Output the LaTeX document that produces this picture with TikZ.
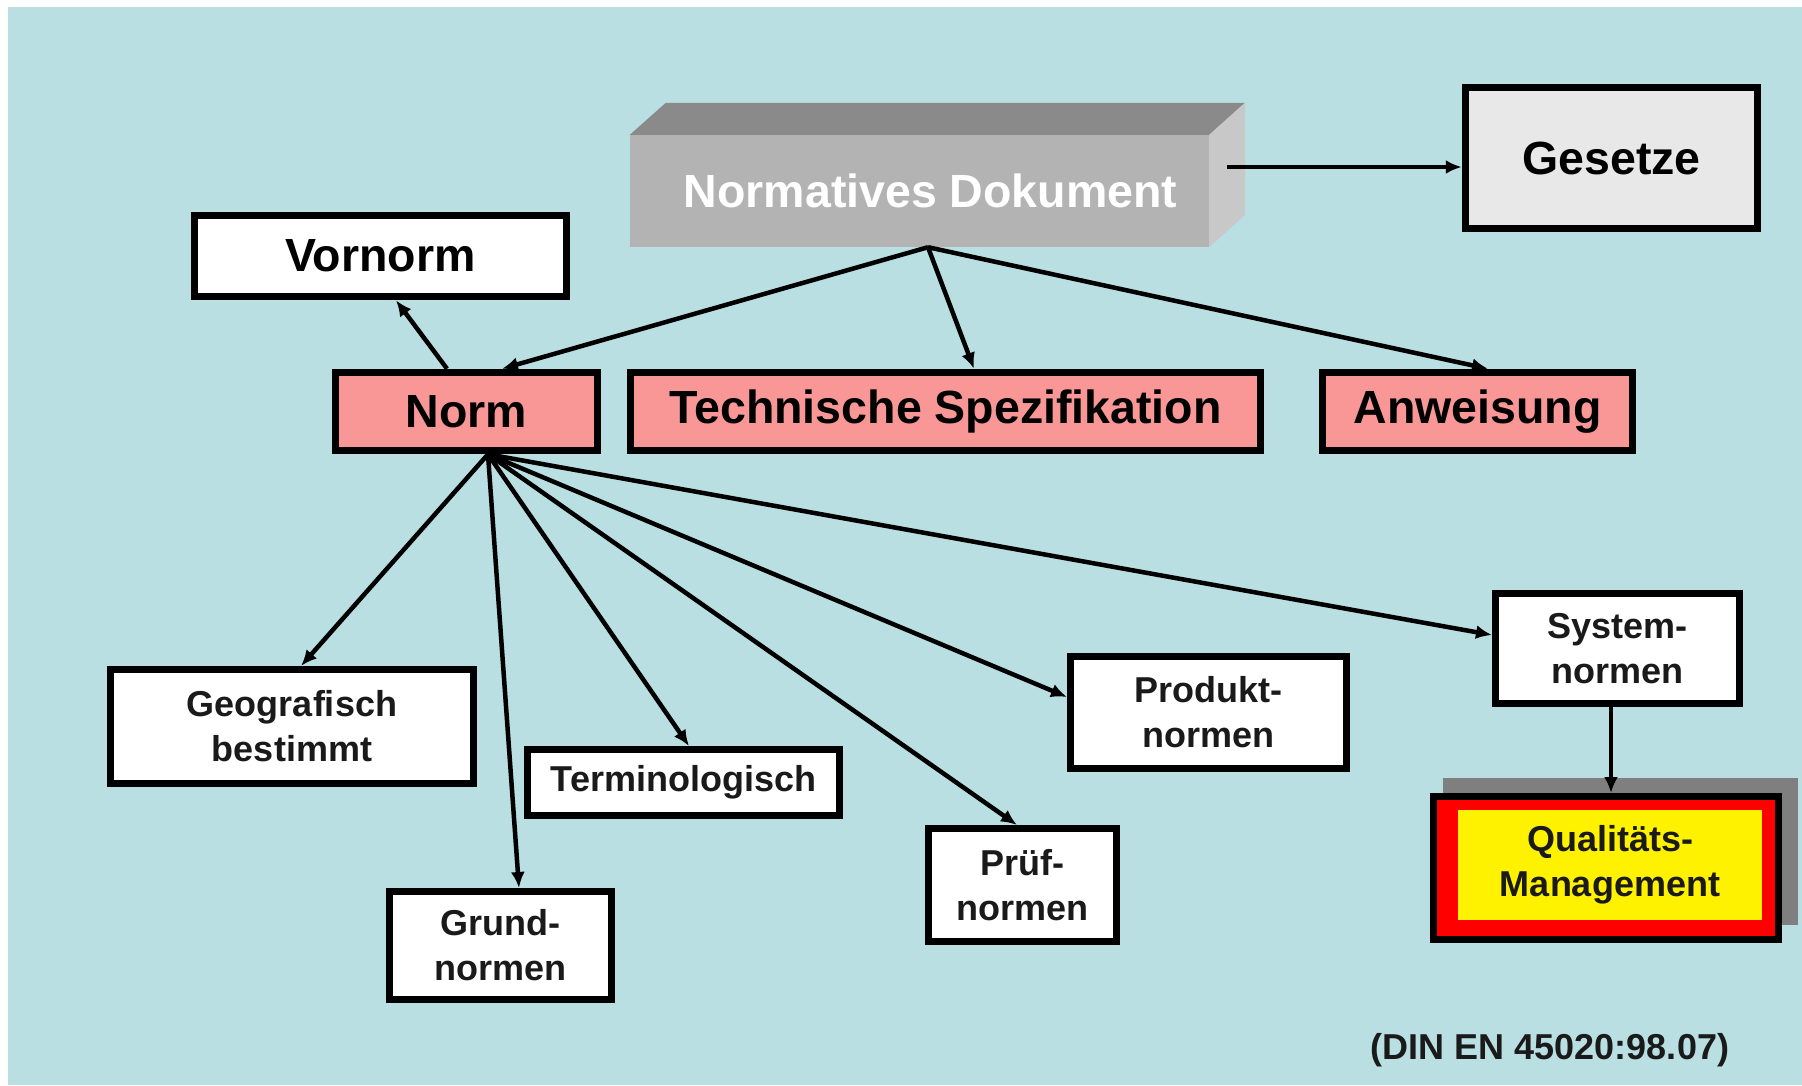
\documentclass[tikz,border=0pt]{standalone}
\usepackage{fontspec}
\setmainfont{Liberation Sans}
\usetikzlibrary{arrows.meta,calc}
\definecolor{bg}{HTML}{B9DFE2}
\definecolor{pinkbox}{HTML}{F99797}
\definecolor{gesgray}{HTML}{E8E8E8}
\definecolor{ndfront}{HTML}{B3B3B3}
\definecolor{ndtop}{HTML}{8A8A8A}
\definecolor{ndside}{HTML}{C8C8C8}
\definecolor{shadowgray}{HTML}{7F7F7F}
\definecolor{txt}{HTML}{1A1A1A}
\begin{document}
\begin{tikzpicture}[x=1pt,y=-1pt,
  bigbox/.style={draw=black,line width=7.5pt,inner sep=0pt,align=center,text=black,
    font=\bfseries\fontsize{46.5}{50}\selectfont},
  smallbox/.style={draw=black,line width=7pt,fill=white,inner sep=0pt,align=center,text=txt,
    font=\bfseries\fontsize{36}{45}\selectfont},
  arr/.style={line width=4.5pt,draw=black,-{Latex[length=16pt,width=14pt]}},
]
\useasboundingbox (0,0) rectangle (1802,1085);
\fill[white] (0,0) rectangle (1802,1085);
\fill[bg] (8,7) rectangle (1802,1085);

% Normatives Dokument (3D box)
\node[fill=ndfront,inner sep=0pt,minimum width=579pt,minimum height=112pt,
  text=white,font=\bfseries\fontsize{46.5}{50}\selectfont] (nd) at (919.5,191) {\hspace*{22pt}Normatives Dokument};
\fill[ndtop] (nd.north west) -- ++(36,-32) -- ++(579,0) -- (nd.north east) -- cycle;
\fill[ndside] (nd.north east) -- ++(36,-32) -- ++(0,112) -- (nd.south east) -- cycle;

% Upper boxes
\node[bigbox,fill=gesgray,minimum width=292pt,minimum height=141pt] (gesetze) at (1611.5,158) {Gesetze};
\node[bigbox,fill=white,minimum width=372pt,minimum height=81pt] (vornorm) at (380.5,256) {Vornorm};
\node[bigbox,fill=pinkbox,minimum width=262pt,minimum height=78pt] (norm) at (466.5,411.5) {Norm};
\node[bigbox,fill=pinkbox,minimum width=630pt,minimum height=78pt] (ts) at (945.5,411.5) {Technische Spezifikation};
\node[bigbox,fill=pinkbox,minimum width=310pt,minimum height=78pt] (anw) at (1477.5,411.5) {Anweisung};

% Lower boxes
\node[smallbox,minimum width=363pt,minimum height=114pt] (geo) at (292,726.5) {Geografisch\\bestimmt};
\node[smallbox,minimum width=222pt,minimum height=108pt] (grund) at (500.5,945.5) {Grund-\\normen};
\node[smallbox,minimum width=312pt,minimum height=66pt] (term) at (683.5,782.5) {Terminologisch};
\node[smallbox,minimum width=188pt,minimum height=113pt] (pruef) at (1022.5,885) {Prüf-\\normen};
\node[smallbox,minimum width=276pt,minimum height=112pt] (prod) at (1208.5,712.5) {Produkt-\\normen};
\node[smallbox,minimum width=244pt,minimum height=110pt] (sys) at (1617.5,648.5) {System-\\normen};

% Qualitaets-Management
\fill[shadowgray] (1443,778) rectangle (1798,925);
\node[draw=black,line width=7pt,fill=red,inner sep=0pt,minimum width=345pt,minimum height=143pt] (qm) at (1606,868) {};
\fill[yellow] (1458,810) rectangle (1762,920);
\node[inner sep=0pt,align=center,text=txt,font=\bfseries\fontsize{36}{45}\selectfont] (qmtext) at (1610,865) {Qualitäts-\\Management};

% Source
\node[inner sep=0pt,text=txt,font=\bfseries\fontsize{36}{40}\selectfont] (din) at (1550,1050) {(DIN EN 45020:98.07)};

% Connectors
\coordinate (ndo) at ([xshift=8.5pt]nd.south);
\coordinate (ndr) at ([xshift=18pt,yshift=24pt]nd.east);
\coordinate (normo) at ([xshift=21.5pt]norm.south);
\draw[arr] (ndr) -- (ndr -| gesetze.west);
\draw[arr] (ndo) -- ([xshift=35.5pt]norm.north);
\draw[arr] (ndo) -- ([xshift=28.5pt]ts.north);
\draw[arr] (ndo) -- ([xshift=10.5pt]anw.north);
\draw[arr] ([xshift=-19.5pt]norm.north) -- ([xshift=15.5pt]vornorm.south);
\draw[arr] (normo) -- ([xshift=9pt]geo.north);
\draw[arr] (normo) -- ([xshift=18.5pt]grund.north);
\draw[arr] (normo) -- ([xshift=5.5pt]term.north);
\draw[arr] (normo) -- ([xshift=-5.5pt]pruef.north);
\draw[arr] (normo) -- ([yshift=15.5pt]prod.west);
\draw[arr] (normo) -- ([yshift=13.5pt]sys.west);
\draw[arr] ([xshift=-6.5pt]sys.south) -- ([xshift=5pt]qm.north);
\end{tikzpicture}
\end{document}
